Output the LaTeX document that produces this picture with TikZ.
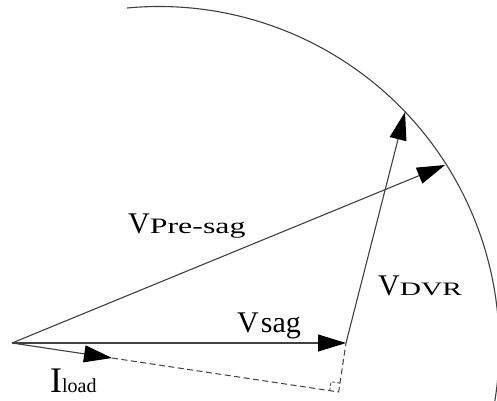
\documentclass[tikz,border=0pt]{standalone}
\usepackage{fontspec}
\usepackage{graphicx}
\setmainfont{Liberation Serif}
\usetikzlibrary{arrows.meta,calc}
\begin{document}
\begin{tikzpicture}[x=1pt,y=1pt,
  vec/.style={line width=1.1pt, draw=black!75, -{Triangle[length=28pt,width=17pt,color=black]}},
  dsh/.style={line width=1pt, draw=black!75, dash pattern=on 6pt off 3.5pt},
  lbl/.style={inner sep=0pt, anchor=base west, text=black}]
\useasboundingbox (0,0) rectangle (497,400);
\coordinate (O) at (12,57);
\coordinate (S) at (346,57);
\coordinate (D) at (405,288);
\coordinate (P) at (445,235);
\coordinate (I) at (112,42);
\coordinate (F) at ($(O)!(S)!(I)$);
\coordinate (A1) at ($(F)!9pt!(O)$);
\coordinate (A2) at ($(F)!9pt!(S)$);
\coordinate (A3) at ($(A1)+(A2)-(F)$);
\coordinate (C) at (159,53.3);
\coordinate (Arc0) at (127,392);
% circle arc
\begin{scope}
\clip (0,0) rectangle (497,400);
\draw[line width=1.1pt, black!75] (Arc0) arc[start angle=95.4, end angle=-12, radius=340.2pt];
\end{scope}
% vectors
\draw[vec] (O) -- (P);
\draw[vec] (O) -- (S);
\draw[vec] (S) -- (D);
\draw[vec] (O) -- (I);
% dashed construction
\draw[dsh] (I) -- (F) -- (S);
\draw[line width=0.8pt, draw=black!75, dash pattern=on 3pt off 2pt] (A1) -- (A3) -- (A2);
% labels
\node[lbl] (lpre) at (128,167) {\fontsize{30}{30}\selectfont V\scalebox{1.45}[1]{\fontsize{22}{22}\selectfont Pre-sag}};
\node[lbl] (lsag) at (237,68) {\fontsize{30}{30}\selectfont V\hspace{2pt}sag};
\node[lbl] (ldvr) at (378,105) {\fontsize{30}{30}\selectfont V\scalebox{1.55}[1]{\fontsize{19}{19}\selectfont DVR}};
\node[lbl] (lload) at (50,8) {\fontsize{36}{36}\selectfont I\fontsize{20}{20}\selectfont load};
\end{tikzpicture}
\end{document}
